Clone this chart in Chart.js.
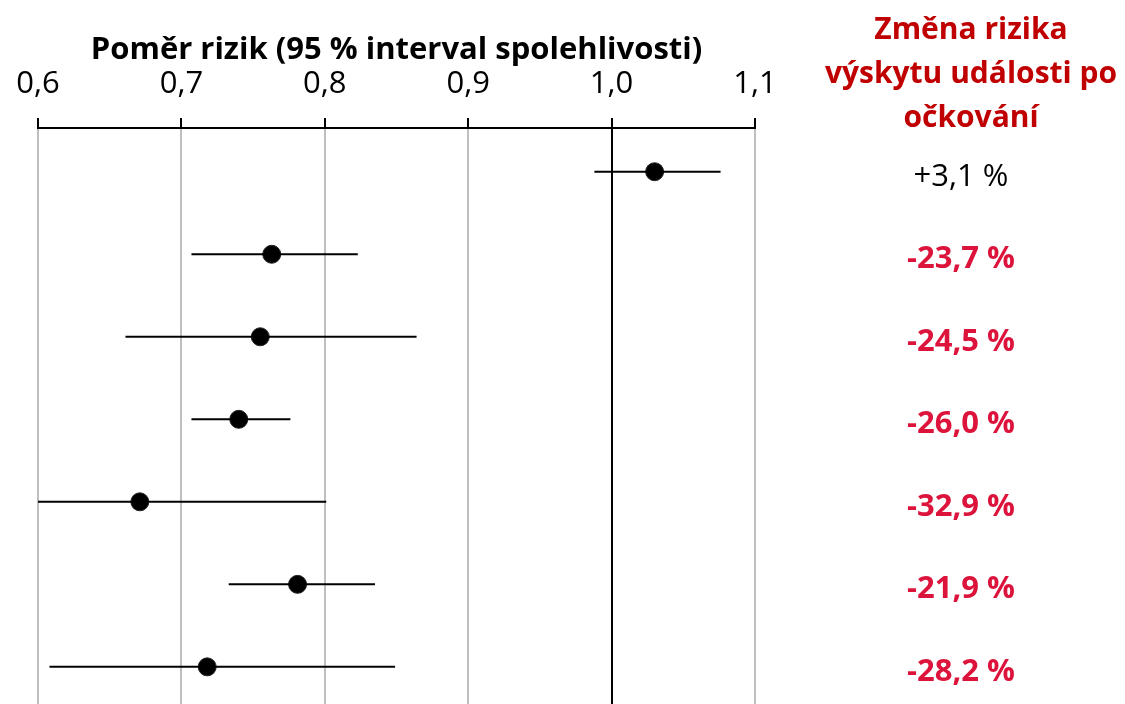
<!DOCTYPE html>
<html>
<head>
<meta charset="utf-8">
<script src="https://cdn.jsdelivr.net/npm/chart.js@4"></script>
<style>
  html, body { margin: 0; padding: 0; background: #fff; overflow: hidden; }
  canvas { display: block; }
</style>
</head>
<body>
<canvas id="forest" width="1125" height="704"></canvas>
<script>
// Data
const rows = [0, 1, 2, 3, 4, 5, 6];
const ratio = [1.030, 0.763, 0.755, 0.740, 0.671, 0.781, 0.718];
const ciLow = [0.988, 0.707, 0.661, 0.707, 0.600, 0.733, 0.608];
const ciHigh = [1.076, 0.823, 0.864, 0.776, 0.801, 0.835, 0.849];
const changeLabels = ['+3,1 %', '-23,7 %', '-24,5 %', '-26,0 %', '-32,9 %', '-21,9 %', '-28,2 %'];
const xTicks = [0.6, 0.7, 0.8, 0.9, 1.0, 1.1];
const headerLines = ['Změna rizika', 'výskytu události po', 'očkování'];

const FONT = "'Open Sans', 'Noto Sans', sans-serif";

// one line dataset per confidence interval
const ciSets = rows.map(i => ({
    type: 'scatter',
    data: [{ x: ciLow[i], y: i }, { x: ciHigh[i], y: i }],
    showLine: true,
    borderColor: '#000',
    borderWidth: 2,
    pointRadius: 0,
    pointHoverRadius: 0
}));

// Right-hand column of labels
const sideText = {
    id: 'sideText',
    afterDraw(chart) {
        const ctx = chart.ctx;
        const y = chart.scales.y;
        const cx = 961;
        ctx.save();
        ctx.textAlign = 'center';
        ctx.textBaseline = 'middle';
        ctx.fillStyle = '#C00000';
        ctx.font = 'bold 30px ' + FONT;
        headerLines.forEach((t, i) => ctx.fillText(t, cx + 10, 30 + i * 44));
        rows.forEach(i => {
            const pos = changeLabels[i].startsWith('+');
            ctx.fillStyle = pos ? '#000' : '#DC143C';
            ctx.font = (pos ? '' : 'bold ') + '31px ' + FONT;
            ctx.fillText(changeLabels[i], cx, y.getPixelForValue(rows[i]) + 5);
        });
        ctx.restore();
    }
};

const ctx = document.getElementById('forest').getContext('2d');
new Chart(ctx, {
    type: 'scatter',
    data: {
        datasets: ciSets.concat([{
            data: rows.map(i => ({ x: ratio[i], y: i })),
            backgroundColor: '#000',
            borderColor: '#222',
            borderWidth: 1,
            pointRadius: 9,
            pointHoverRadius: 9
        }])
    },
    options: {
        responsive: false,
        animation: false,
        layout: { autoPadding: false, padding: { left: 38, right: 370, top: 0, bottom: 0 } },
        plugins: {
            legend: { display: false },
            tooltip: { enabled: false }
        },
        scales: {
            x: {
                position: 'top',
                min: 0.6,
                max: 1.1,
                afterBuildTicks: s => { s.ticks = xTicks.map(v => ({ value: v })); },
                afterFit: s => { s.height = 128; },
                border: { color: '#000', width: 2 },
                grid: {
                    color: c => c.tick && Math.abs(c.tick.value - 1) < 1e-9 ? '#000' : '#BFBFBF',
                    lineWidth: 2,
                    tickColor: '#000',
                    tickLength: 10
                },
                ticks: {
                    color: '#000',
                    font: { family: FONT, size: 31 },
                    padding: 15,
                    callback: v => v.toFixed(1).replace('.', ',')
                },
                title: {
                    display: true,
                    text: 'Poměr rizik (95 % interval spolehlivosti)',
                    color: '#000',
                    font: { family: FONT, size: 31, weight: 'bold' },
                    padding: { top: 32, bottom: 0 }
                }
            },
            y: {
                display: false,
                reverse: true,
                min: -0.53,
                max: 6.45
            }
        }
    },
    plugins: [sideText]
});
</script>
</body>
</html>
